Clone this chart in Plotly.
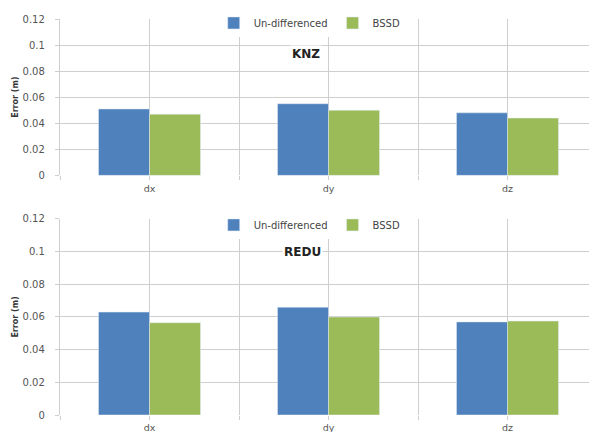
import plotly.graph_objects as go

categories = ["dx", "dy", "dz"]
series_names = ["Un-differenced", "BSSD"]
knz_undiff = [0.051, 0.055, 0.048]
knz_bssd = [0.047, 0.050, 0.044]
redu_undiff = [0.063, 0.066, 0.057]
redu_bssd = [0.0565, 0.060, 0.0575]
station_titles = ["KNZ", "REDU"]
y_ticks = [0, 0.02, 0.04, 0.06, 0.08, 0.1, 0.12]
y_ticktext = ["0", "0.02", "0.04", "0.06", "0.08", "0.1", "0.12"]

blue = "#4F81BD"
green = "#9BBB59"
grid = "#cfcfcf"
font = "DejaVu Sans"

xi = list(range(len(categories)))
grid_vals = [v / 2 for v in range(-1, 2 * len(categories))]
grid_text = [categories[int(v)] if v == int(v) else "" for v in grid_vals]

fig = go.Figure()
fig.add_trace(go.Bar(x=xi, y=knz_undiff, name=series_names[0], marker_color=blue,
                     xaxis="x", yaxis="y", legend="legend"))
fig.add_trace(go.Bar(x=xi, y=knz_bssd, name=series_names[1], marker_color=green,
                     xaxis="x", yaxis="y", legend="legend"))
fig.add_trace(go.Bar(x=xi, y=redu_undiff, name=series_names[0], marker_color=blue,
                     xaxis="x2", yaxis="y2", legend="legend2"))
fig.add_trace(go.Bar(x=xi, y=redu_bssd, name=series_names[1], marker_color=green,
                     xaxis="x2", yaxis="y2", legend="legend2"))

xax = dict(range=[-0.5, 2.5], tickvals=grid_vals, ticktext=grid_text, showgrid=True,
           gridcolor=grid, gridwidth=1.3, zeroline=False, showline=False, automargin=False,
           ticks="outside", ticklen=4, tickcolor=grid,
           tickfont=dict(family=font, size=9.5, color="#555555"))
yax = dict(range=[0, 0.12], tickvals=y_ticks, ticktext=y_ticktext, showgrid=True,
           gridcolor=grid, gridwidth=1.3, zeroline=False, showline=True, linecolor=grid,
           linewidth=1.3, ticks="outside", ticklen=4, tickcolor=grid, automargin=False,
           ticklabelstandoff=8,
           tickfont=dict(family=font, size=10, color="#555555"),
           title=dict(text="<b>Error (m)</b>", font=dict(family=font, size=8, color="#333333"),
                      standoff=2))

legend_style = dict(orientation="h", xanchor="center", yanchor="middle",
                    bgcolor="white", font=dict(family=font, size=10, color="#444444"),
                    itemwidth=30, tracegroupgap=0)

# page has an 8px body margin: the figure is offset by (8, 8) inside the window
fig.update_layout(
    width=589, height=424,
    margin=dict(l=52, r=0, t=7, b=17),
    paper_bgcolor="white", plot_bgcolor="white",
    barmode="group", bargap=0.43, bargroupgap=0,
    xaxis=dict(xax, domain=[0, 1], anchor="y"),
    yaxis=dict(yax, domain=[0.605, 1.0], anchor="x"),
    xaxis2=dict(xax, domain=[0, 1], anchor="y2"),
    yaxis2=dict(yax, domain=[0.0, 0.495], anchor="x2"),
    legend=dict(legend_style, x=0.465, y=0.99),
    legend2=dict(legend_style, x=0.465, y=0.48),
    showlegend=True,
)

fig.add_annotation(text="<b>" + station_titles[0] + "</b>", xref="paper", yref="paper",
                   x=0.458, y=0.935, showarrow=False, bgcolor="white",
                   font=dict(family=font, size=12, color="#222222"))
fig.add_annotation(text="<b>" + station_titles[1] + "</b>", xref="paper", yref="paper",
                   x=0.452, y=0.4125, showarrow=False, bgcolor="white",
                   font=dict(family=font, size=12, color="#222222"))

fig.write_html("out.html")
